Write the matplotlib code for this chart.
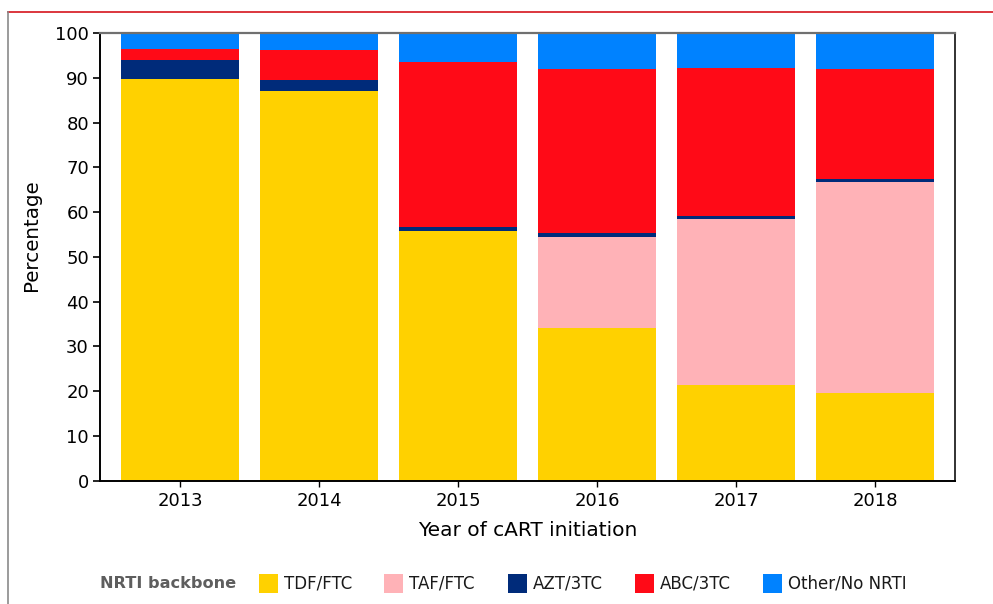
import matplotlib
matplotlib.use("Agg")
import matplotlib.pyplot as plt
from matplotlib.patches import Rectangle
from matplotlib.lines import Line2D
import numpy as np

years = ["2013", "2014", "2015", "2016", "2017", "2018"]
series_names = ["TDF/FTC", "TAF/FTC", "AZT/3TC", "ABC/3TC", "Other/No NRTI"]
tdf_ftc = [89.7, 87.0, 55.8, 34.2, 21.3, 19.6]
taf_ftc = [0.0, 0.0, 0.0, 20.3, 37.2, 47.2]
azt_3tc = [4.3, 2.5, 0.9, 0.8, 0.7, 0.7]
abc_3tc = [2.4, 6.7, 36.8, 36.6, 33.0, 24.4]
other = [3.6, 3.8, 6.5, 8.1, 7.8, 8.1]
colors = ["#FFD100", "#FFB2B7", "#002B7A", "#FF0A17", "#0082FF"]
yticks = [0, 10, 20, 30, 40, 50, 60, 70, 80, 90, 100]

plt.rcParams['font.family'] = ['DejaVu Sans']

W, H = 993, 604
fig = plt.figure(figsize=(W / 100, H / 100), dpi=100)
ax = fig.add_axes([100 / W, 1 - 480.7 / H, 855 / W, (480.7 - 33) / H])

x = np.arange(len(years))
bottom = np.zeros(len(years))
for name, vals, c in zip(series_names, [tdf_ftc, taf_ftc, azt_3tc, abc_3tc, other], colors):
    vals = np.array(vals)
    ax.bar(x, vals, bottom=bottom, width=0.85, color=c, edgecolor='none', label=name)
    bottom += vals

ax.set_xlim(-0.575, 5.575)
ax.set_ylim(0, 100)
ax.set_yticks(yticks)
ax.set_xticks(x)
ax.set_xticklabels(years)
ax.tick_params(axis='both', labelsize=13, colors='black', direction='out')
ax.tick_params(axis='y', length=5, width=1.2, pad=3)
ax.tick_params(axis='x', length=4, width=1.0, pad=4)
ax.set_ylabel("Percentage", fontsize=14.3, labelpad=9)
ax.yaxis.set_label_coords(-0.069, 0.549)
ax.set_xlabel("Year of cART initiation", fontsize=14.5, labelpad=8)

for s in ['left', 'bottom']:
    ax.spines[s].set_color('black')
    ax.spines[s].set_linewidth(1.4)
ax.spines['top'].set_color('#707070')
ax.spines['top'].set_linewidth(1.6)
ax.spines['right'].set_color('#222222')
ax.spines['right'].set_linewidth(1.3)

# outer frame lines
fig.add_artist(Line2D([8 / W, 1.0], [1 - 11.7 / H, 1 - 11.7 / H], color='#D9262E', linewidth=1.3, transform=fig.transFigure))
fig.add_artist(Line2D([8.3 / W, 8.3 / W], [0, 1 - 11.7 / H], color='#8A8A8A', linewidth=1.2, transform=fig.transFigure))

# legend (manual)
ly = 1 - 583 / H
fig.text(100 / W, ly, "NRTI backbone", fontsize=11.6, fontweight='bold', color='#5E5E5E', va='center', ha='left')
leg_x = [259, 384, 508, 635, 763]
for lx, name, c in zip(leg_x, series_names, colors):
    fig.add_artist(Rectangle((lx / W, ly - 9.5 / H), 18.5 / W, 19 / H, transform=fig.transFigure,
                             facecolor=c, edgecolor='none'))
    fig.text((lx + 25) / W, ly, name, fontsize=12, color='#1A1A1A', va='center', ha='left')

fig.savefig("out.png", dpi=100)
